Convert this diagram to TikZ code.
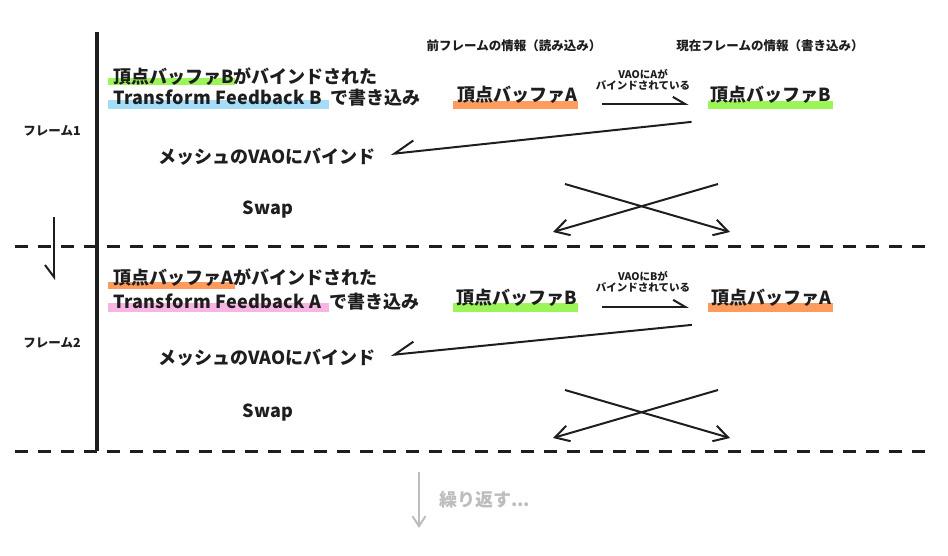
\documentclass[tikz,border=0pt]{standalone}
\usepackage{fontspec}
\setmainfont{Noto Sans CJK JP}[BoldFont={Noto Sans CJK JP Black}]
\usetikzlibrary{arrows.meta,positioning}
\definecolor{ink}{HTML}{1E1E1E}
\definecolor{orangex}{HTML}{FF9B5C}
\definecolor{greenx}{HTML}{9CF557}
\definecolor{bluex}{HTML}{A5DCF8}
\definecolor{pinkx}{HTML}{F8B5E4}
\definecolor{grayx}{HTML}{BDBDBD}
\newcommand{\wide}[1]{{\addfontfeatures{LetterSpace=2}#1}\hspace{8pt}}
\tikzset{
  big/.style={font=\bfseries\fontsize{18}{20}\selectfont,text=ink,inner sep=0pt},
  hdr/.style={font=\bfseries\fontsize{12.5}{14}\selectfont,text=ink,inner sep=0pt},
  note/.style={font=\bfseries\fontsize{10.5}{11}\selectfont,text=ink,inner sep=0pt,align=center},
  lharp/.style={-{Straight Barb[harpoon,length=12pt,width=14pt]},line width=2pt,ink},
  rharp/.style={-{Straight Barb[harpoon,swap,length=20pt,width=22pt]},line width=2pt,ink},
  swp/.style={-{Straight Barb[length=14pt,width=16pt]},line width=2pt,ink},
  rule/.style={line width=3pt,ink,dash pattern=on 13pt off 10pt}
}
\begin{document}
\begin{tikzpicture}[x=1pt,y=-1pt]
\useasboundingbox (0,0) rectangle (948,555);
% highlights
\fill[greenx] (108,78) rectangle (235,85);
\fill[bluex] (108,100) rectangle (329,109);
\fill[orangex] (453,101) rectangle (578,109);
\fill[greenx] (708,101) rectangle (833,109);
\fill[orangex] (108,282) rectangle (235,289);
\fill[pinkx] (108,303) rectangle (329,312);
\fill[greenx] (453,303) rectangle (578,312);
\fill[orangex] (708,303) rectangle (833,312);
% frame rules
\draw[line width=3.5pt,ink] (97,32) -- (97,451);
\draw[rule] (15,246) -- (930,246);
\draw[rule] (15,451) -- (930,451);
% headers
\node[hdr] (prevHdr) at (514,46) {前フレームの情報（読み込み）};
\node[hdr] (curHdr) at (770,46) {現在フレームの情報（書き込み）};
% frame 1
\node[hdr] (frame1) at (52,131) {フレーム1};
\node[big,anchor=west] (bindB1) at (113,77) {頂点バッファBがバインドされた};
\node[big,anchor=west] (tfB1) at (113,98) {\wide{Transform Feedback B}で書き込み};
\node[big] (bufA1) at (517,95) {頂点バッファA};
\node[big] (bufB1) at (771,95) {頂点バッファB};
\node[note] (vao1) at (643,80) {VAOにAが\\バインドされている};
\node[big] (mesh1) at (267,157) {メッシュのVAOにバインド};
\node[big] (swap1) at (268,210) {Swap};
\draw[lharp] ([xshift=25pt]bufA1.south east) -- ([xshift=-22pt]bufB1.south west);
\draw[rharp] ([xshift=-19pt,yshift=-18pt]bufB1.south west) -- ([xshift=15pt,yshift=3pt]mesh1.east);
% frame 2
\node[hdr] (frame2) at (52,343) {フレーム2};
\node[big,anchor=west] (bindA2) at (113,278) {頂点バッファAがバインドされた};
\node[big,anchor=west] (tfA2) at (113,302) {\wide{Transform Feedback A}で書き込み};
\node[big] (bufB2) at (517,298) {頂点バッファB};
\node[big] (bufA2) at (771,298) {頂点バッファA};
\node[note] (vao2) at (643,282) {VAOにBが\\バインドされている};
\node[big] (mesh2) at (267,358) {メッシュのVAOにバインド};
\node[big] (swap2) at (268,413) {Swap};
\draw[lharp] ([xshift=25pt]bufB2.south east) -- ([xshift=-22pt]bufA2.south west);
\draw[rharp] ([xshift=-19pt,yshift=-18pt]bufA2.south west) -- ([xshift=15pt,yshift=3pt]mesh2.east);
% swap crosses
\foreach \f/\dy in {1/0,2/206}{
  \coordinate (s\f a) at (565,184+\dy);
  \coordinate (s\f b) at (730,232+\dy);
  \coordinate (s\f c) at (718,184+\dy);
  \coordinate (s\f d) at (553,232+\dy);
  \draw[swp] (s\f a) -- (s\f b);
  \draw[swp] (s\f c) -- (s\f d);
}
% frame to frame
\coordinate (f1end) at (54,217);
\coordinate (f2start) at (54,280);
\draw[-{Straight Barb[harpoon,swap,length=12pt,width=18pt]},line width=2pt,ink] (f1end) -- (f2start);
% repeat
\coordinate (repTop) at (419,472);
\coordinate (repBot) at (419,528);
\draw[-{Straight Barb[length=10pt,width=13pt]},line width=2pt,grayx] (repTop) -- (repBot);
\node[big,text=grayx,anchor=west] (rep) at (439,500) {繰り返す...};
\end{tikzpicture}
\end{document}
